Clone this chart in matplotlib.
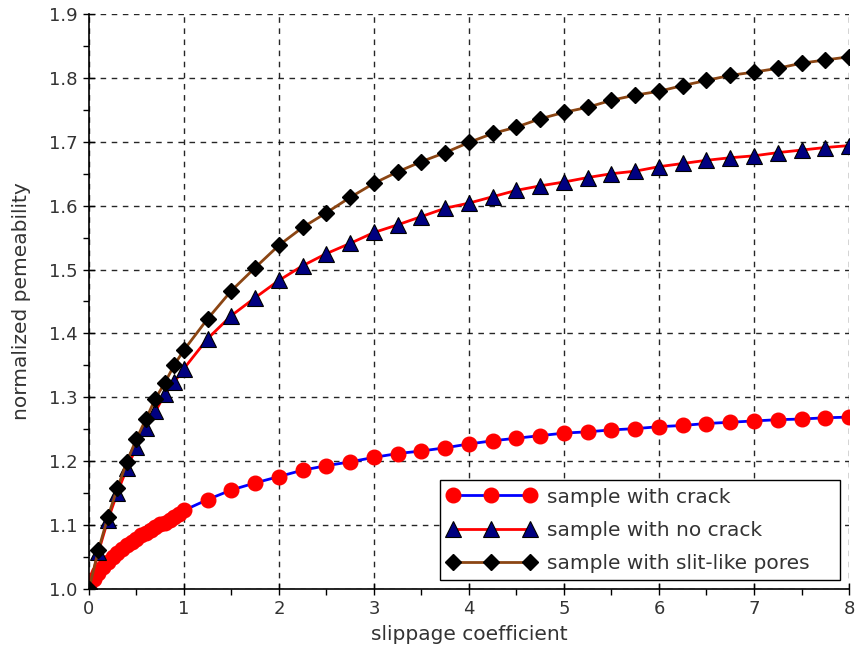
import matplotlib
matplotlib.use('Agg')
import matplotlib.pyplot as plt
from matplotlib.ticker import MultipleLocator, FormatStrFormatter

plt.rcParams['font.family'] = ['DejaVu Sans']

# sample with crack (dense points below 1)
x_crack = [0, 0.05, 0.1, 0.15, 0.2, 0.25, 0.3, 0.35, 0.4, 0.45, 0.5, 0.55, 0.6, 0.65, 0.7,
           0.75, 0.8, 0.85, 0.9, 0.95, 1.0,
           1.25, 1.5, 1.75, 2.0, 2.25, 2.5, 2.75, 3.0, 3.25, 3.5, 3.75, 4.0, 4.25, 4.5, 4.75,
           5.0, 5.25, 5.5, 5.75, 6.0, 6.25, 6.5, 6.75, 7.0, 7.25, 7.5, 7.75, 8.0]
y_crack = [1.000, 1.015, 1.025, 1.034, 1.042, 1.050, 1.057, 1.063, 1.069, 1.074, 1.079, 1.084,
           1.088, 1.093, 1.097, 1.101, 1.104, 1.108, 1.112, 1.117, 1.123,
           1.140, 1.155, 1.166, 1.176, 1.186, 1.193, 1.199, 1.206, 1.212, 1.216, 1.221, 1.227,
           1.232, 1.236, 1.240, 1.244, 1.246, 1.249, 1.251, 1.254, 1.256, 1.259, 1.261, 1.263,
           1.265, 1.266, 1.268, 1.269]

x_pts = [0, 0.1, 0.2, 0.3, 0.4, 0.5, 0.6, 0.7, 0.8, 0.9, 1.0,
         1.25, 1.5, 1.75, 2.0, 2.25, 2.5, 2.75, 3.0, 3.25, 3.5, 3.75, 4.0, 4.25, 4.5, 4.75,
         5.0, 5.25, 5.5, 5.75, 6.0, 6.25, 6.5, 6.75, 7.0, 7.25, 7.5, 7.75, 8.0]

# sample with no crack
y_nocrack = [1.000, 1.058, 1.108, 1.151, 1.189, 1.222, 1.252, 1.278, 1.305, 1.324, 1.345,
             1.392, 1.428, 1.456, 1.483, 1.506, 1.525, 1.541, 1.558, 1.570, 1.583, 1.596, 1.604,
             1.614, 1.624, 1.631, 1.637, 1.644, 1.650, 1.654, 1.661, 1.666, 1.671, 1.675, 1.678,
             1.683, 1.687, 1.691, 1.694]

# sample with slit-like pores
y_slit = [1.000, 1.061, 1.113, 1.158, 1.199, 1.235, 1.266, 1.298, 1.323, 1.351, 1.374,
          1.423, 1.467, 1.503, 1.538, 1.566, 1.589, 1.613, 1.635, 1.653, 1.669, 1.683, 1.699,
          1.713, 1.723, 1.736, 1.746, 1.754, 1.765, 1.773, 1.779, 1.788, 1.796, 1.804, 1.809,
          1.815, 1.823, 1.828, 1.833]

fig = plt.figure(figsize=(8.55, 6.6), dpi=100)
ax = fig.add_axes([0.104, 0.1076, 0.889, 0.8712])

ax.plot(x_crack, y_crack, color='blue', lw=2, marker='o', markersize=10.5,
        markerfacecolor='red', markeredgecolor='red', label='sample with crack', zorder=3)
ax.plot(x_pts, y_nocrack, color='red', lw=2, marker='^', markersize=12,
        markerfacecolor='#000080', markeredgecolor='black', markeredgewidth=0.8,
        label='sample with no crack', zorder=4)
ax.plot(x_pts, y_slit, color='#8B4513', lw=2, marker='D', markersize=8,
        markerfacecolor='black', markeredgecolor='black',
        label='sample with slit-like pores', zorder=5)

ax.set_xlim(0, 8)
ax.set_ylim(1.0, 1.9)
ax.xaxis.set_major_locator(MultipleLocator(1))
ax.xaxis.set_minor_locator(MultipleLocator(0.5))
ax.yaxis.set_major_locator(MultipleLocator(0.1))
ax.yaxis.set_minor_locator(MultipleLocator(0.05))
ax.yaxis.set_major_formatter(FormatStrFormatter('%.1f'))

ax.tick_params(which='major', direction='inout', length=9, width=1, labelsize=13,
               colors='black', labelcolor='#333333')
ax.tick_params(which='minor', direction='out', length=4, width=1)

ax.spines['top'].set_visible(False)
ax.spines['right'].set_visible(False)
ax.spines['left'].set_linewidth(1.2)
ax.spines['bottom'].set_linewidth(1.2)

ax.grid(True, which='major', color='black', linestyle=(0, (4, 4)), linewidth=1, alpha=0.85)
ax.set_axisbelow(True)
for sp in ax.spines.values():
    sp.set_zorder(6)

ax.set_xlabel('slippage coefficient', fontsize=14.5, color='#333333', labelpad=5)
ax.set_ylabel('normalized pemeability', fontsize=14.5, color='#333333', labelpad=13)

# wide legend box with spare room on the right, like the original
leg = ax.legend(loc='lower left', bbox_to_anchor=(0.462, 0.016, 0.526, 0.2), mode='expand',
                borderaxespad=0, fontsize=14.5, numpoints=3, handlelength=4.4,
                frameon=True, fancybox=False, framealpha=1, edgecolor='black',
                borderpad=0.35, handletextpad=0.55, labelspacing=0.7)
leg.get_frame().set_linewidth(1)
for t in leg.get_texts():
    t.set_color('#333333')

fig.savefig('out.png', dpi=100)
